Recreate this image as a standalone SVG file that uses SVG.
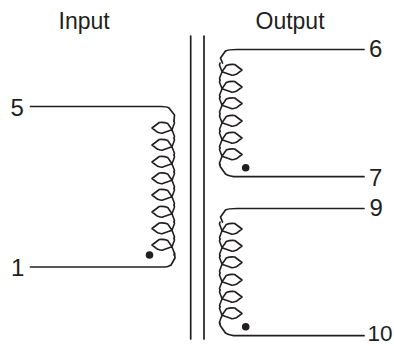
<svg xmlns="http://www.w3.org/2000/svg" width="394" height="346" viewBox="0 0 394 346">
<style>
.w{fill:none;stroke:#231f20;stroke-width:1.7;stroke-linejoin:round;stroke-linecap:round}
.c{fill:none;stroke:#231f20;stroke-width:1.6;stroke-linejoin:round;stroke-linecap:round}
.d{fill:#231f20}
text{font-family:"Liberation Sans",Arial,sans-serif;font-size:23px;fill:#231f20}
.n{font-size:24px}
.t{font-size:22.500px}
</style>
<defs>
<path id="loop" class="c" d="M2,-7 L2.500,-5 L0,1.700 L-4.300,-4.500 Q-8,-6 -12.700,-5.500 L-20,0 L-14.300,4.300 Q-10,5.500 -9.300,5 L0,1.700 L2.500,8.500 L2,10"/>
<g id="secondary">
<path class="w" d="M364,49.500 H237 Q228,49.500 225.500,51 L220.500,58 L222.500,63"/>
<use href="#loop" transform="translate(222,70) scale(-1,1)"/>
<use href="#loop" transform="translate(222,87) scale(-1,1)"/>
<use href="#loop" transform="translate(222,103.500) scale(-1,1)"/>
<use href="#loop" transform="translate(222,121) scale(-1,1)"/>
<use href="#loop" transform="translate(222,138) scale(-1,1)"/>
<use href="#loop" transform="translate(222,154.500) scale(-1,1)"/>
<path class="w" d="M219.500,164 L220.500,167 L225.500,174 Q230,176.700 237,176.700 H364"/>
<circle class="d" cx="245.700" cy="167.700" r="3.800"/>
</g>
</defs>
<g id="core">
<path class="w" d="M190.700,36 V339 M204,36 V339"/>
</g>
<g id="connectors">
<path class="w" d="M30.500,106.500 H161 Q167,106.500 169,108 L174.500,115 L174,121"/>
<path class="w" d="M30.500,267 H165 Q168,267 171,265 L175,258 L174.500,253"/>
</g>
<g id="primary">
<use href="#loop" transform="translate(172,128)"/>
<use href="#loop" transform="translate(172,145)"/>
<use href="#loop" transform="translate(172,162)"/>
<use href="#loop" transform="translate(172,178.500)"/>
<use href="#loop" transform="translate(172,195)"/>
<use href="#loop" transform="translate(172,212)"/>
<use href="#loop" transform="translate(172,228.500)"/>
<use href="#loop" transform="translate(172,245)"/>
<circle class="d" cx="149.500" cy="255" r="3.800"/>
</g>
<g id="output-upper"><use href="#secondary"/></g>
<g id="output-lower"><use href="#secondary" transform="translate(0,159)"/></g>
<g id="labels">
<text x="58.500" y="29">Input</text>
<text x="255.500" y="29">Output</text>
<text class="n" x="10.500" y="116">5</text>
<text class="n" x="11" y="276">1</text>
<text class="n" x="369" y="57">6</text>
<text class="n" x="369" y="186">7</text>
<text class="n" x="369.500" y="216">9</text>
<text class="t" x="367.500" y="341">10</text>
</g>
</svg>
